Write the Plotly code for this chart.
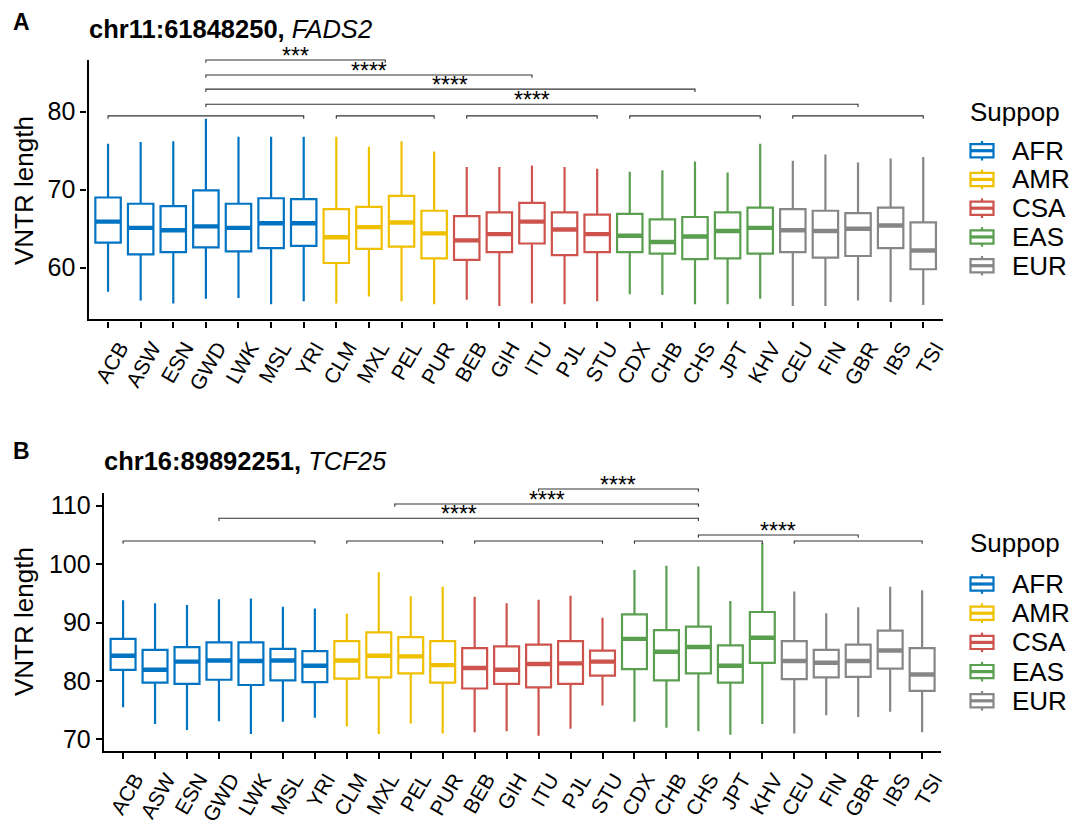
import plotly.graph_objects as go

# ---------------------------------------------------------------- data
populations = ["ACB", "ASW", "ESN", "GWD", "LWK", "MSL", "YRI",
               "CLM", "MXL", "PEL", "PUR",
               "BEB", "GIH", "ITU", "PJL", "STU",
               "CDX", "CHB", "CHS", "JPT", "KHV",
               "CEU", "FIN", "GBR", "IBS", "TSI"]
population_superpop = (["AFR"] * 7 + ["AMR"] * 4 + ["CSA"] * 5
                       + ["EAS"] * 5 + ["EUR"] * 5)
superpops = ["AFR", "AMR", "CSA", "EAS", "EUR"]
superpop_colors = ["#0073C2", "#EFC000", "#CD534C", "#5A9E50", "#868686"]

# chr11:61848250 (FADS2) - box statistics per population
fads2_lower = [56.9, 55.8, 55.4, 56.0, 56.1, 55.3, 55.7, 55.4, 56.3, 55.7, 55.3, 55.9, 55.1,
               55.4, 55.3, 55.7, 56.6, 56.5, 55.3, 55.3, 56.0, 55.1, 55.1, 55.8, 55.6, 55.2]
fads2_q1 = [63.2, 61.7, 62.0, 62.6, 62.1, 62.5, 62.8, 60.6, 62.4, 62.7, 61.2, 61.0, 62.0,
            63.1, 61.6, 62.0, 62.0, 61.8, 61.1, 61.2, 61.8, 62.0, 61.3, 61.5, 62.5, 59.8]
fads2_median = [65.9, 65.1, 64.8, 65.3, 65.1, 65.7, 65.7, 63.9, 65.2, 65.8, 64.4, 63.5, 64.3,
                65.9, 64.9, 64.3, 64.1, 63.3, 64.0, 64.7, 65.1, 64.8, 64.7, 65.0, 65.4, 62.2]
fads2_q3 = [69.0, 68.2, 67.9, 69.9, 68.2, 68.9, 68.8, 67.5, 67.8, 69.2, 67.3, 66.6, 67.1,
            68.3, 67.1, 66.8, 66.9, 66.2, 66.5, 67.1, 67.7, 67.5, 67.3, 67.0, 67.7, 65.8]
fads2_upper = [75.9, 76.1, 76.2, 79.1, 76.8, 76.8, 76.8, 76.8, 75.5, 76.2, 74.9, 72.9, 72.9,
               73.1, 72.9, 72.7, 72.3, 72.5, 73.6, 72.2, 75.9, 73.7, 74.5, 73.5, 74.0, 74.2]

# chr16:89892251 (TCF25) - box statistics per population
tcf25_lower = [75.5, 72.6, 71.6, 73.1, 70.9, 73.0, 73.7, 72.2, 70.9, 72.7, 71.0, 71.2, 71.4,
               70.6, 71.8, 75.8, 73.0, 72.0, 71.4, 70.8, 72.6, 71.0, 74.1, 73.8, 74.7, 71.2]
tcf25_q1 = [81.9, 79.7, 79.5, 80.2, 79.3, 80.1, 79.8, 80.4, 80.6, 81.3, 79.7, 78.7, 79.5,
            78.9, 79.5, 80.9, 82.0, 80.1, 81.3, 79.7, 83.1, 80.3, 80.6, 80.7, 82.1, 78.3]
tcf25_median = [84.3, 81.9, 83.3, 83.5, 83.4, 83.5, 82.6, 83.5, 84.3, 84.2, 82.7, 82.2, 81.9,
                82.9, 83.0, 83.3, 87.2, 85.0, 85.8, 82.6, 87.4, 83.4, 83.1, 83.4, 85.2, 81.1]
tcf25_q3 = [87.2, 85.3, 85.8, 86.6, 86.6, 85.5, 85.1, 86.8, 88.3, 87.5, 86.8, 85.6, 85.9,
            86.2, 86.8, 85.2, 91.4, 88.7, 89.3, 86.1, 91.8, 86.8, 85.3, 86.2, 88.6, 85.6]
tcf25_upper = [93.8, 93.3, 93.0, 94.0, 94.1, 92.7, 92.4, 91.5, 98.6, 94.5, 96.1, 94.4, 93.3,
               93.9, 94.6, 90.8, 99.0, 99.7, 99.6, 93.7, 103.6, 95.3, 91.6, 92.6, 96.1, 95.5]

# pairwise super-population tests: (group 1, group 2, label)
fads2_tests = [("AFR", "AMR", "***"), ("AFR", "CSA", "****"),
               ("AFR", "EAS", "****"), ("AFR", "EUR", "****")]
tcf25_tests = [("CSA", "EAS", "****"), ("AMR", "EAS", "****"),
               ("AFR", "EAS", "****"), ("EAS", "EUR", "****")]

# ---------------------------------------------------------------- layout constants
W, H = 1076, 827
FONT = "Liberation Sans, Arial, Helvetica, sans-serif"
BOX_WIDTH = 0.78
N = len(populations)
X_RANGE = (-0.6, N - 1 + 0.6)

panels = [
    dict(letter="A", locus="chr11:61848250,", gene="FADS2", ax="",
         xpx=(88.5, 942.8), ypx=(60.0, 319.3), yrange=(53.38, 86.63), yticks=[60, 70, 80],
         stats=(fads2_lower, fads2_q1, fads2_median, fads2_q3, fads2_upper),
         tests=fads2_tests, test_levels=[86.63, 84.70, 82.90, 80.96], group_level=79.47,
         title_y=28.7, letter_y=22.5, ytitle_y=191,
         legend_title_y=111.7, legend_y0=150.7, legend_step=28.75),
    dict(letter="B", locus="chr16:89892251,", gene="TCF25", ax="2",
         xpx=(103.9, 941.3), ypx=(493.3, 750.7), yrange=(68.05, 112.12),
         yticks=[70, 80, 90, 100, 110],
         stats=(tcf25_lower, tcf25_q1, tcf25_median, tcf25_q3, tcf25_upper),
         tests=tcf25_tests, test_levels=[112.86, 110.30, 107.84, 104.98], group_level=103.96,
         title_y=460.8, letter_y=451.0, ytitle_y=622,
         legend_title_y=543.3, legend_y0=584.0, legend_step=29.2),
]

fig = go.Figure()
shapes, annotations = [], []


def px_x(p, pos):
    x0, x1 = p["xpx"]
    return x0 + (pos - X_RANGE[0]) / (X_RANGE[1] - X_RANGE[0]) * (x1 - x0)


def px_y(p, v):
    y0, y1 = p["ypx"]
    lo, hi = p["yrange"]
    return y1 - (v - lo) / (hi - lo) * (y1 - y0)


def paper(px, py):
    return px / W, 1 - py / H


def bracket(p, pos0, pos1, level, tip_px=2.8):
    xa, ya = paper(px_x(p, pos0), px_y(p, level))
    xb, _ = paper(px_x(p, pos1), px_y(p, level))
    tip = tip_px / H
    shapes.append(dict(type="path", xref="paper", yref="paper",
                       path=f"M {xa},{ya - tip} L {xa},{ya} L {xb},{ya} L {xb},{ya - tip}",
                       line=dict(color="#333333", width=1.1)))


for p in panels:
    ax = p["ax"]
    lower, q1, med, q3, upper = p["stats"]
    for sp, col in zip(superpops, superpop_colors):
        idx = [i for i, s in enumerate(population_superpop) if s == sp]
        fig.add_trace(go.Box(
            x=idx, q1=[q1[i] for i in idx], median=[med[i] for i in idx],
            q3=[q3[i] for i in idx], lowerfence=[lower[i] for i in idx],
            upperfence=[upper[i] for i in idx], width=BOX_WIDTH, whiskerwidth=0,
            boxpoints=False, fillcolor="white", line=dict(color=col, width=2.2),
            name=sp, showlegend=False, xaxis="x" + ax, yaxis="y" + ax, hoverinfo="skip"))
        # thicker median bar on top of each box
        mx, my = [], []
        for i in idx:
            mx += [i - BOX_WIDTH / 2, i + BOX_WIDTH / 2, None]
            my += [med[i], med[i], None]
        fig.add_trace(go.Scatter(x=mx, y=my, mode="lines", line=dict(color=col, width=4.4),
                                 showlegend=False, hoverinfo="skip",
                                 xaxis="x" + ax, yaxis="y" + ax))

    dom_x = [p["xpx"][0] / W, p["xpx"][1] / W]
    dom_y = [1 - p["ypx"][1] / H, 1 - p["ypx"][0] / H]
    axis_common = dict(showline=True, linecolor="black", linewidth=2.4, ticks="outside",
                       ticklen=6, tickwidth=2.2, tickcolor="black", showgrid=False,
                       zeroline=False, mirror=False, automargin=False)
    fig.update_layout(**{
        "xaxis" + ax: dict(domain=dom_x, range=list(X_RANGE), tickvals=list(range(N)),
                           ticktext=populations, tickangle=-60, ticklabelshift=12,
                           tickfont=dict(family=FONT, size=21, color="black"),
                           anchor="y" + ax, **axis_common),
        "yaxis" + ax: dict(domain=dom_y, range=list(p["yrange"]), tickvals=p["yticks"],
                           tickfont=dict(family=FONT, size=25, color="black"),
                           anchor="x" + ax, **axis_common),
    })

    # group centres and within-group brackets
    centre = {}
    for sp in superpops:
        idx = [i for i, s in enumerate(population_superpop) if s == sp]
        centre[sp] = sum(idx) / len(idx)
        bracket(p, idx[0], idx[-1], p["group_level"])
    for (g1, g2, lab), lvl in zip(p["tests"], p["test_levels"]):
        bracket(p, centre[g1], centre[g2], lvl)
        lx, ly = paper(px_x(p, (centre[g1] + centre[g2]) / 2), px_y(p, lvl))
        annotations.append(dict(x=lx, y=ly, xref="paper", yref="paper", text=lab,
                                showarrow=False, xanchor="center", yanchor="middle", yshift=4,
                                font=dict(family=FONT, size=23, color="black")))

    # panel letter, title and y-axis title
    annotations.append(dict(x=11 / W, y=1 - p["letter_y"] / H, xref="paper", yref="paper",
                            text=f"<b>{p['letter']}</b>", showarrow=False, xanchor="left",
                            yanchor="middle", font=dict(family=FONT, size=23, color="black")))
    annotations.append(dict(x=(p["xpx"][0] - 1.5) / W, y=1 - p["title_y"] / H, xref="paper",
                            yref="paper", text=f"<b>{p['locus']}</b> <i>{p['gene']}</i>",
                            showarrow=False, xanchor="left", yanchor="middle",
                            font=dict(family=FONT, size=25.5, color="black")))
    annotations.append(dict(x=24 / W, y=1 - p["ytitle_y"] / H, xref="paper", yref="paper",
                            text="VNTR length", textangle=-90, showarrow=False,
                            xanchor="center", yanchor="middle",
                            font=dict(family=FONT, size=26, color="black")))

    # legend: Suppop
    annotations.append(dict(x=968 / W, y=1 - p["legend_title_y"] / H, xref="paper",
                            yref="paper", text="Suppop", showarrow=False, xanchor="left",
                            yanchor="middle", font=dict(family=FONT, size=26, color="black")))
    for k, (sp, col) in enumerate(zip(superpops, superpop_colors)):
        cy = p["legend_y0"] + k * p["legend_step"]
        bx0, bx1, half = 970.5, 993.5, 6.6
        cx = (bx0 + bx1) / 2
        x0, y0 = paper(bx0, cy - half)
        x1, y1 = paper(bx1, cy + half)
        shapes.append(dict(type="rect", xref="paper", yref="paper", x0=x0, x1=x1, y0=y0, y1=y1,
                           line=dict(color=col, width=2.2), fillcolor="white"))
        mx0, my = paper(bx0, cy)
        mx1, _ = paper(bx1, cy)
        shapes.append(dict(type="line", xref="paper", yref="paper", x0=mx0, x1=mx1, y0=my,
                           y1=my, line=dict(color=col, width=3.2)))
        wx, wy0 = paper(cx, cy - half - 3.2)
        _, wy1 = paper(cx, cy - half)
        shapes.append(dict(type="line", xref="paper", yref="paper", x0=wx, x1=wx, y0=wy0,
                           y1=wy1, line=dict(color=col, width=2.2)))
        _, wy2 = paper(cx, cy + half)
        _, wy3 = paper(cx, cy + half + 3.2)
        shapes.append(dict(type="line", xref="paper", yref="paper", x0=wx, x1=wx, y0=wy2,
                           y1=wy3, line=dict(color=col, width=2.2)))
        tx, ty = paper(1010, cy)
        annotations.append(dict(x=tx, y=ty, xref="paper", yref="paper", text=sp,
                                showarrow=False, xanchor="left", yanchor="middle",
                                font=dict(family=FONT, size=26, color="black")))

fig.update_layout(
    width=W, height=H, margin=dict(l=0, r=0, t=0, b=0, pad=0),
    paper_bgcolor="white", plot_bgcolor="white", boxmode="overlay", showlegend=False,
    font=dict(family=FONT, color="black"), shapes=shapes, annotations=annotations,
)

fig.write_html("out.html")
